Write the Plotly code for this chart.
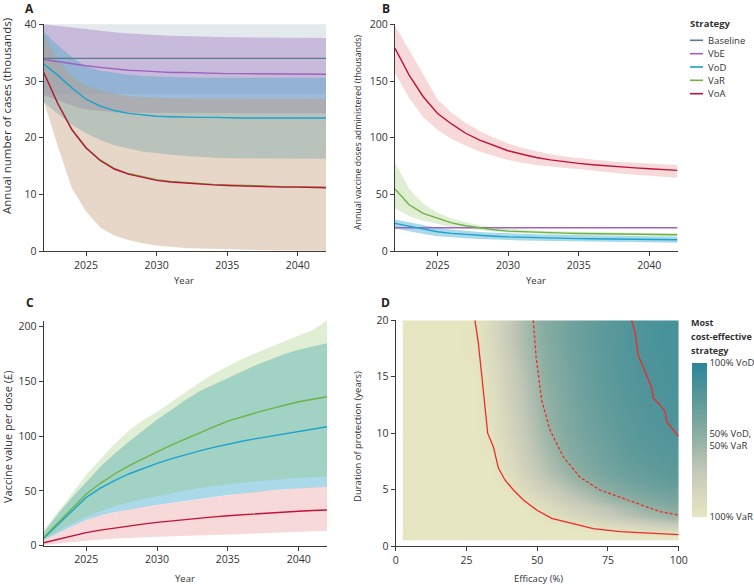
import plotly.graph_objects as go

W, H = 754, 585

years = list(range(2022, 2043))

# ---------------- Panel A: annual number of cases (thousands)
A_baseline = [34.0]*21
A_baseline_hi = [40.3]*21
A_baseline_lo = [27.7]*21
A_vbe = [33.8, 33.4, 33.0, 32.7, 32.4, 32.1, 31.9, 31.8, 31.6, 31.5, 31.5, 31.4, 31.4, 31.3, 31.3, 31.3, 31.2, 31.2, 31.2, 31.2, 31.2]
A_vbe_hi = [40.0, 39.7, 39.4, 39.1, 38.8, 38.6, 38.4, 38.2, 38.1, 38.0, 37.9, 37.8, 37.8, 37.7, 37.7, 37.7, 37.6, 37.6, 37.6, 37.6, 37.6]
A_vbe_lo = [27.5, 26.6, 25.7, 25.0, 24.7, 24.5, 24.4, 24.3, 24.3, 24.3, 24.3, 24.3, 24.3, 24.3, 24.3, 24.3, 24.3, 24.3, 24.3, 24.3, 24.3]
A_vod = [33.0, 31.0, 28.8, 26.8, 25.6, 24.8, 24.3, 24.0, 23.8, 23.7, 23.6, 23.6, 23.6, 23.5, 23.5, 23.5, 23.5, 23.5, 23.5, 23.5, 23.5]
A_vod_hi = [38.7, 36.3, 34.2, 32.5, 31.8, 31.4, 31.1, 30.9, 30.8, 30.7, 30.7, 30.6, 30.6, 30.6, 30.6, 30.6, 30.6, 30.6, 30.6, 30.6, 30.6]
A_vod_lo = [26.3, 24.2, 22.3, 20.8, 19.6, 18.7, 18.1, 17.6, 17.3, 17.0, 16.8, 16.6, 16.5, 16.4, 16.3, 16.3, 16.3, 16.3, 16.3, 16.3, 16.3]
A_var = [31.6, 26.1, 21.5, 18.3, 16.1, 14.6, 13.7, 13.1, 12.6, 12.3, 12.1, 11.9, 11.8, 11.7, 11.6, 11.5, 11.5, 11.4, 11.4, 11.3, 11.3]
A_var_hi = [38.5, 34.0, 31.0, 29.3, 28.4, 27.8, 27.4, 27.2, 27.1, 27.0, 27.0, 26.9, 26.9, 26.9, 26.9, 26.9, 26.9, 26.9, 26.9, 26.9, 26.9]
A_var_lo = [26.5, 18.5, 11.1, 7.0, 4.2, 2.8, 2.0, 1.4, 1.0, 0.8, 0.6, 0.5, 0.4, 0.35, 0.3, 0.25, 0.2, 0.15, 0.12, 0.1, 0.1]
A_voa = [31.5, 26.0, 21.4, 18.2, 16.0, 14.5, 13.6, 13.0, 12.5, 12.2, 12.0, 11.8, 11.7, 11.6, 11.5, 11.4, 11.4, 11.3, 11.3, 11.2, 11.2]
A_voa_hi = [38.0, 33.5, 30.6, 29.0, 28.2, 27.7, 27.3, 27.1, 27.0, 26.9, 26.9, 26.9, 26.9, 26.9, 26.9, 26.9, 26.9, 26.9, 26.9, 26.9, 26.9]
A_voa_lo = [26.5, 18.5, 11.1, 7.0, 4.2, 2.8, 2.0, 1.4, 1.0, 0.8, 0.6, 0.5, 0.4, 0.35, 0.3, 0.25, 0.2, 0.15, 0.12, 0.1, 0.1]

# ---------------- Panel B: annual vaccine doses administered (thousands)
B_vbe = [20.7]*21
B_vod = [24.6, 22.0, 19.5, 17.2, 15.8, 14.8, 14.0, 13.3, 12.7, 12.3, 12.0, 11.7, 11.4, 11.2, 11.0, 10.8, 10.7, 10.5, 10.4, 10.3, 10.2]
B_vod_hi = [28.1, 25.5, 23.0, 20.7, 19.2, 18.0, 17.0, 16.3, 15.7, 15.3, 15.0, 14.7, 14.4, 14.2, 14.0, 13.8, 13.6, 13.5, 13.3, 13.2, 13.1]
B_vod_lo = [20.1, 17.5, 15.3, 13.3, 12.2, 11.4, 10.8, 10.3, 9.8, 9.5, 9.2, 8.9, 8.7, 8.5, 8.3, 8.1, 8.0, 7.9, 7.7, 7.6, 7.5]
B_var = [55.0, 41.0, 33.4, 29.0, 25.0, 22.5, 20.5, 19.0, 17.8, 17.2, 16.7, 16.3, 16.0, 15.7, 15.5, 15.3, 15.1, 15.0, 14.8, 14.7, 14.6]
B_var_hi = [78.0, 55.0, 42.0, 34.0, 29.0, 25.5, 23.0, 21.0, 19.8, 19.0, 18.3, 17.8, 17.4, 17.1, 16.8, 16.6, 16.4, 16.2, 16.1, 16.0, 15.9]
B_var_lo = [38.0, 31.0, 27.0, 24.0, 21.5, 19.8, 18.5, 17.4, 16.6, 16.0, 15.5, 15.1, 14.8, 14.5, 14.3, 14.1, 13.9, 13.7, 13.6, 13.5, 13.4]
B_voa = [178.8, 155.3, 136.2, 121.6, 112.2, 104.0, 98.0, 93.0, 88.6, 85.5, 82.6, 80.5, 78.7, 77.5, 76.3, 75.2, 74.3, 73.5, 72.7, 72.0, 71.3]
B_voa_hi = [199.0, 178.0, 156.0, 134.0, 122.0, 113.0, 106.0, 100.0, 95.0, 91.0, 88.0, 85.5, 83.5, 82.0, 80.5, 79.5, 78.6, 77.8, 77.0, 76.5, 76.0]
B_voa_lo = [157.0, 135.0, 118.0, 107.0, 99.0, 93.0, 88.0, 84.0, 80.5, 78.0, 76.0, 74.5, 73.5, 72.5, 71.5, 70.0, 68.5, 67.5, 66.5, 65.5, 64.8]

# ---------------- Panel C: vaccine value per dose (GBP)
C_vod = [6.7, 19.3, 31.7, 44.1, 52.5, 59.5, 65.5, 70.7, 75.2, 79.3, 83.1, 86.6, 89.8, 92.8, 95.4, 97.8, 100.0, 102.1, 104.2, 106.5, 108.7]
C_vod_hi = [12.0, 29.0, 44.0, 58.4, 72.0, 84.0, 95.0, 105.0, 115.0, 124.0, 133.0, 141.0, 147.0, 153.0, 159.0, 165.0, 170.0, 175.0, 179.0, 182.0, 185.0]
C_vod_lo = [5.0, 11.0, 17.5, 23.4, 27.5, 30.5, 33.0, 35.2, 37.1, 39.0, 40.8, 42.5, 44.5, 46.3, 47.9, 49.3, 50.5, 51.5, 52.5, 53.3, 53.9]
C_var = [7.6, 21.0, 34.2, 47.2, 57.0, 65.5, 72.9, 79.6, 85.8, 91.8, 97.6, 103.2, 108.6, 113.8, 117.8, 121.5, 125.0, 128.3, 131.5, 133.8, 136.0]
C_var_hi = [14.0, 31.0, 48.0, 64.5, 79.0, 93.0, 105.0, 114.5, 122.0, 131.0, 140.0, 149.0, 157.0, 164.0, 170.5, 176.0, 181.5, 186.5, 192.0, 197.0, 205.5]
C_var_lo = [6.0, 13.0, 20.0, 26.5, 31.5, 36.0, 39.5, 42.7, 45.4, 48.0, 50.5, 52.7, 54.5, 56.0, 57.5, 58.8, 60.0, 61.0, 62.0, 62.6, 63.0]
C_voa = [2.7, 5.9, 9.0, 11.9, 14.2, 16.2, 18.0, 19.7, 21.3, 22.7, 24.0, 25.2, 26.3, 27.4, 28.35, 29.2, 30.0, 30.75, 31.5, 32.1, 32.6]
C_voa_hi = [5.0, 11.0, 17.5, 23.4, 27.5, 30.5, 33.0, 35.2, 37.1, 39.0, 40.8, 42.5, 44.5, 46.3, 47.9, 49.3, 50.5, 51.5, 52.5, 53.3, 53.9]
C_voa_lo = [0.6, 2.0, 3.4, 4.6, 5.6, 6.5, 7.2, 7.7, 8.2, 8.7, 9.2, 9.6, 10.0, 10.3, 10.7, 11.1, 11.5, 11.9, 12.5, 13.1, 13.7]

# ---------------- Panel D: most cost-effective strategy (0 = 100% VaR, 1 = 100% VoD)
D_eff_edges = [2.5, 15, 25, 31, 37, 43, 49, 55, 62, 70, 78, 86, 94, 100]
D_dur_edges = [0.5, 1.0, 1.5, 2.2, 3.0, 4.0, 5.5, 7.5, 10.0, 13.0, 16.5, 20.0]
D_share = [
    [0, 0, 0, 0, 0, 0, 0, 0, 0, 0, 0, 0, 0],
    [0, 0, 0, 0, 0, 0, 0, 0, 0, 0, 0.02, 0.05, 0.08],
    [0, 0, 0, 0, 0, 0, 0, 0, 0.04, 0.09, 0.14, 0.20, 0.25],
    [0, 0, 0, 0, 0, 0, 0.02, 0.08, 0.16, 0.24, 0.32, 0.40, 0.46],
    [0, 0, 0, 0, 0, 0, 0.07, 0.15, 0.24, 0.33, 0.42, 0.50, 0.56],
    [0, 0, 0, 0, 0, 0.08, 0.18, 0.28, 0.39, 0.50, 0.58, 0.63, 0.67],
    [0, 0, 0, 0, 0.07, 0.20, 0.32, 0.43, 0.55, 0.63, 0.69, 0.73, 0.76],
    [0, 0, 0, 0.02, 0.13, 0.27, 0.40, 0.52, 0.61, 0.68, 0.74, 0.78, 0.80],
    [0, 0, 0, 0.05, 0.18, 0.32, 0.46, 0.56, 0.65, 0.72, 0.77, 0.81, 0.83],
    [0, 0, 0, 0.08, 0.22, 0.36, 0.50, 0.59, 0.68, 0.75, 0.80, 0.83, 0.85],
    [0, 0, 0.02, 0.12, 0.28, 0.42, 0.54, 0.62, 0.70, 0.76, 0.81, 0.84, 0.86],
]
# threshold curves (efficacy %, duration years)
D_low_eff = [28.0, 29.2, 30.7, 32.5, 34.5, 36.3, 38.6, 41.6, 45.1, 49.8, 55.1, 64.0, 69.8, 79.3, 93.4, 100.0]
D_low_dur = [20.0, 18.0, 14.4, 10.0, 8.8, 6.9, 5.85, 4.96, 4.08, 3.19, 2.45, 1.92, 1.54, 1.27, 1.06, 1.0]
D_mid_eff = [48.6, 49.6, 51.6, 54.5, 59.2, 65.1, 72.2, 81.6, 93.4, 100.0]
D_mid_dur = [20.0, 16.8, 12.9, 10.3, 7.9, 6.1, 4.96, 4.08, 3.04, 2.75]
D_high_eff = [83.4, 84.6, 85.7, 88.7, 90.5, 91.0, 93.4, 95.2, 95.8, 100.0]
D_high_dur = [20.0, 18.9, 16.9, 15.0, 14.0, 13.1, 12.5, 11.9, 11.0, 9.7]

strategies = ["Baseline", "VbE", "VoD", "VaR", "VoA"]
line_col = {"Baseline": "#5b7b8c", "VbE": "#9d62c2", "VoD": "#1aa3cc", "VaR": "#6db344", "VoA": "#c0123c"}
fill_A = {"Baseline": "rgba(91,123,140,0.17)", "VbE": "rgba(150,100,190,0.35)",
          "VoD": "rgba(52,164,200,0.36)", "VaR": "rgba(140,192,96,0.2)", "VoA": "rgba(232,128,128,0.24)"}
fill_BC = {"VoD": "rgba(52,164,205,0.42)", "VaR": "rgba(140,192,96,0.27)", "VoA": "rgba(232,128,128,0.3)"}

fig = go.Figure()

def band(xa, ya, lo, hi, color):
    fig.add_trace(go.Scatter(x=years + years[::-1], y=hi + lo[::-1], fill="toself",
                             fillcolor=color, line=dict(width=0), mode="lines",
                             hoverinfo="skip", showlegend=False, xaxis=xa, yaxis=ya))

def line(xa, ya, vals, name):
    fig.add_trace(go.Scatter(x=years, y=vals, mode="lines", name=name,
                             line=dict(color=line_col[name], width=1.4),
                             showlegend=False, xaxis=xa, yaxis=ya))

# Panel A
band("x", "y", A_baseline_lo, A_baseline_hi, fill_A["Baseline"])
band("x", "y", A_vbe_lo, A_vbe_hi, fill_A["VbE"])
band("x", "y", A_vod_lo, A_vod_hi, fill_A["VoD"])
band("x", "y", A_var_lo, A_var_hi, fill_A["VaR"])
band("x", "y", A_voa_lo, A_voa_hi, fill_A["VoA"])
line("x", "y", A_baseline, "Baseline")
line("x", "y", A_vbe, "VbE")
line("x", "y", A_vod, "VoD")
line("x", "y", A_var, "VaR")
line("x", "y", A_voa, "VoA")

# Panel B
band("x2", "y2", B_vod_lo, B_vod_hi, fill_BC["VoD"])
band("x2", "y2", B_var_lo, B_var_hi, fill_BC["VaR"])
band("x2", "y2", B_voa_lo, B_voa_hi, fill_BC["VoA"])
line("x2", "y2", B_vbe, "VbE")
line("x2", "y2", B_vod, "VoD")
line("x2", "y2", B_var, "VaR")
line("x2", "y2", B_voa, "VoA")

# Panel C
band("x3", "y3", C_vod_lo, C_vod_hi, fill_BC["VoD"])
band("x3", "y3", C_var_lo, C_var_hi, fill_BC["VaR"])
band("x3", "y3", C_voa_lo, C_voa_hi, fill_BC["VoA"])
line("x3", "y3", C_vod, "VoD")
line("x3", "y3", C_var, "VaR")
line("x3", "y3", C_voa, "VoA")

# Panel D
colorscale = [[0, "#e7e6c2"], [0.3, "#c4c8b8"], [0.5, "#92b1a4"], [0.75, "#5e9a9a"], [1, "#2c879a"]]
fig.add_trace(go.Heatmap(x=D_eff_edges, y=D_dur_edges, z=D_share, zsmooth="best",
                         colorscale=colorscale, zmin=0, zmax=1, xaxis="x4", yaxis="y4",
                         hoverinfo="skip",
                         colorbar=dict(x=691.5 / W, xanchor="left", xref="paper",
                                       y=1 - 363 / H, yanchor="top", yref="paper",
                                       len=154, lenmode="pixels", thickness=15,
                                       thicknessmode="pixels", xpad=0, ypad=0,
                                       outlinewidth=0, ticks="",
                                       tickvals=[0, 0.5, 1],
                                       ticktext=["100% VaR", "50% VoD,<br>50% VaR", "100% VoD"],
                                       tickfont=dict(size=9.5, color="#333"))))
red = "#ee2b25"
fig.add_trace(go.Scatter(x=D_low_eff, y=D_low_dur, mode="lines", line=dict(color=red, width=1.3),
                         showlegend=False, xaxis="x4", yaxis="y4"))
fig.add_trace(go.Scatter(x=D_mid_eff, y=D_mid_dur, mode="lines",
                         line=dict(color=red, width=1.3, dash="3px,2px"),
                         showlegend=False, xaxis="x4", yaxis="y4"))
fig.add_trace(go.Scatter(x=D_high_eff, y=D_high_dur, mode="lines", line=dict(color=red, width=1.3),
                         showlegend=False, xaxis="x4", yaxis="y4"))

def xd(a, b):
    return [a / W, b / W]

def yd(top, bottom):
    return [1 - bottom / H, 1 - top / H]

axis_common = dict(showline=True, linecolor="#3a3a3a", linewidth=1.3, ticks="outside",
                   ticklen=4, tickwidth=1.2, tickcolor="#3a3a3a", showgrid=False,
                   zeroline=False, tickfont=dict(size=10.5, color="#333"))
year_ticks = dict(range=[2022, 2042], tickvals=[2025, 2030, 2035, 2040])

fig.update_layout(
    width=W, height=H, margin=dict(l=0, r=0, t=0, b=0, autoexpand=False),
    paper_bgcolor="white", plot_bgcolor="white", showlegend=False,
    font=dict(family="Open Sans", size=11, color="#333"),
    xaxis=dict(domain=xd(43.7, 326), anchor="y", **year_ticks, **axis_common),
    yaxis=dict(domain=yd(24.3, 251.3), anchor="x", range=[0, 40], tickvals=[0, 10, 20, 30, 40], **axis_common),
    xaxis2=dict(domain=xd(395, 677.5), anchor="y2", **year_ticks, **axis_common),
    yaxis2=dict(domain=yd(24.3, 251.3), anchor="x2", range=[0, 200], tickvals=[0, 50, 100, 150, 200], **axis_common),
    xaxis3=dict(domain=xd(43.7, 327), anchor="y3", **year_ticks, **axis_common),
    yaxis3=dict(domain=yd(320.7, 545.7), anchor="x3", range=[0, 205.5], tickvals=[0, 50, 100, 150, 200], **axis_common),
    xaxis4=dict(domain=xd(395.7, 678.7), anchor="y4", range=[0, 100], tickvals=[0, 25, 50, 75, 100], **axis_common),
    yaxis4=dict(domain=yd(320.3, 546), anchor="x4", range=[0, 20], tickvals=[0, 5, 10, 15, 20], **axis_common),
)

def txt(text, x, y, size, angle=0, bold=False, xanchor="center", color="#333"):
    if bold:
        text = "<b>" + text + "</b>"
    fig.add_annotation(text=text, x=x / W, y=1 - y / H, xref="paper", yref="paper",
                       xanchor=xanchor, yanchor="middle", showarrow=False, textangle=angle,
                       font=dict(size=size, color=color))

# panel letters
for letter, x, y in [("A", 23, 9), ("B", 380, 9), ("C", 24, 302), ("D", 379, 302)]:
    txt(letter, x, y, 12, bold=True, xanchor="left", color="#222")

# axis titles
txt("Year", 184, 280, 9.5)
txt("Year", 536, 280, 9.5)
txt("Year", 185, 578, 9.5)
txt("Efficacy (%)", 538, 578, 9.5)
txt("Annual number of cases (thousands)", 7, 116, 11.5, angle=-90)
txt("Annual vaccine doses administered (thousands)", 358, 132, 8.8, angle=-90)
txt("Vaccine value per dose (£)", 7, 437, 11, angle=-90)
txt("Duration of protection (years)", 357, 437, 9.5, angle=-90)

# legend (manual)
txt("Strategy", 688, 24, 9.5, bold=True, xanchor="left")
leg_y = [40.3, 53.7, 67.0, 80.3, 93.7]
for name, yy in zip(strategies, leg_y):
    fig.add_shape(type="line", xref="paper", yref="paper", x0=690 / W, x1=703 / W,
                  y0=1 - yy / H, y1=1 - yy / H, line=dict(color=line_col[name], width=1.6))
    txt(name, 706, yy, 9.5, xanchor="left")

# colorbar title
for t, yy in [("Most", 322), ("cost-effective", 336), ("strategy", 350)]:
    txt(t, 689, yy, 9, bold=True, xanchor="left")

fig.write_html("out.html", config={"displayModeBar": False},
               post_script="document.body.style.margin='0';document.body.style.overflow='hidden';")
